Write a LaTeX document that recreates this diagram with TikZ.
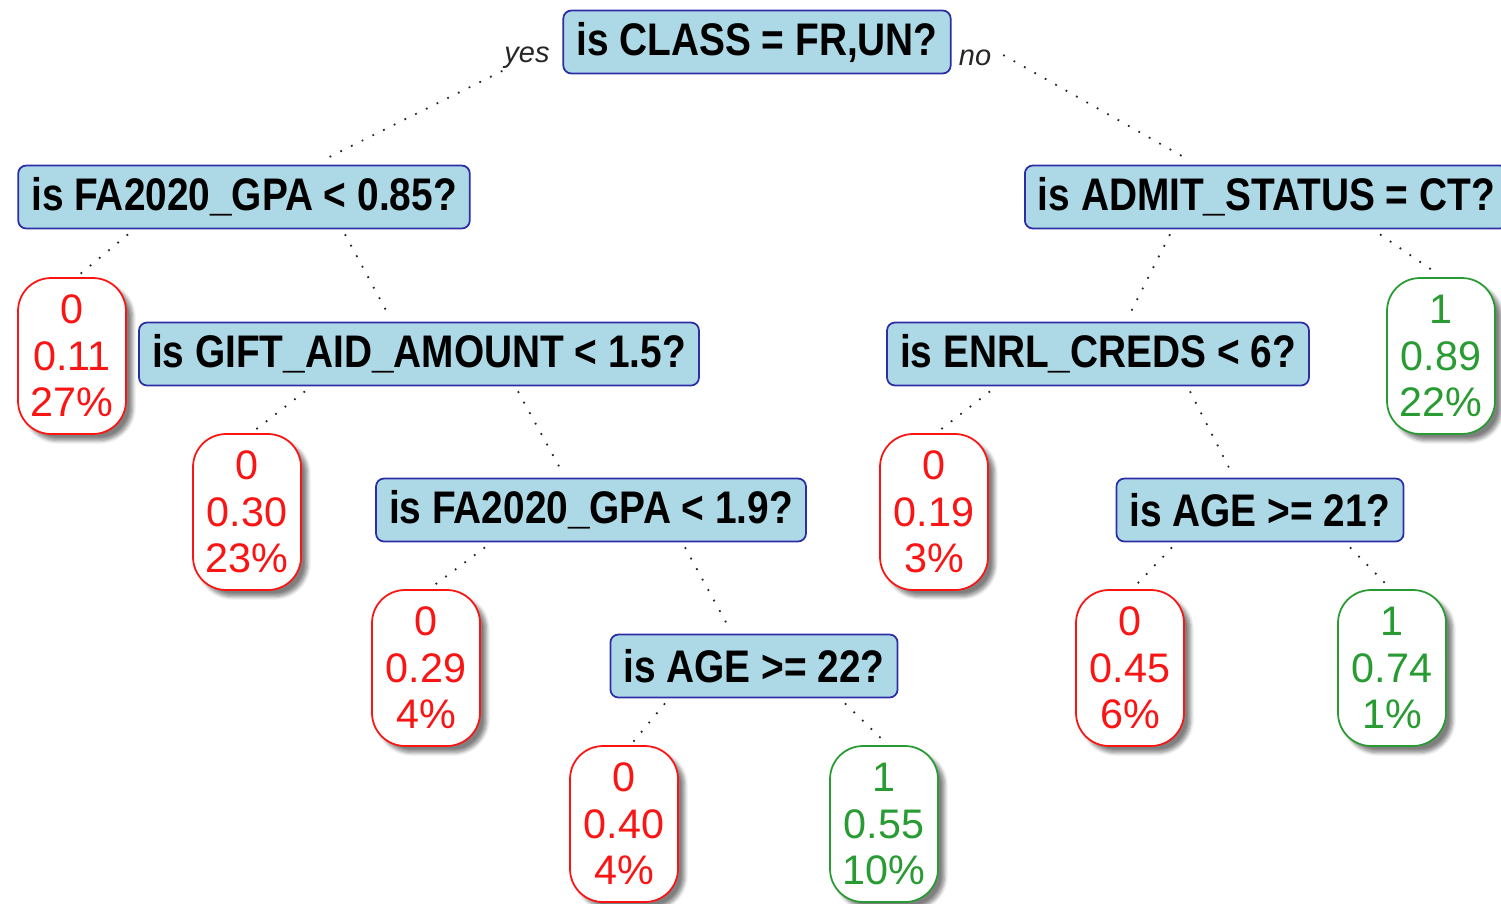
\documentclass[tikz,border=0pt]{standalone}
\usepackage{fontspec}
\setmainfont{Liberation Sans}
\newfontfamily\splitfont[FakeStretch=0.85]{Liberation Sans}
\usetikzlibrary{calc,shadows.blur}

\definecolor{splitfill}{RGB}{173,216,230}
\definecolor{splitdraw}{RGB}{45,45,165}
\definecolor{leafred}{RGB}{250,20,20}
\definecolor{leafgreen}{RGB}{40,155,50}

\tikzset{
  split/.style={draw=splitdraw, fill=splitfill, line width=1pt, rounded corners=0.16cm,
    minimum height=1.26cm, inner xsep=0.26cm, inner ysep=0pt,
    font=\splitfont\bfseries\fontsize{26}{30}\selectfont},
  leaf/.style={fill=white, line width=1pt, rounded corners=0.66cm, minimum width=2.16cm,
    minimum height=3.12cm, align=center, inner sep=0pt,
    font=\fontsize{23.5}{26.5}\selectfont,
    blur shadow={shadow xshift=0.13cm, shadow yshift=-0.13cm, shadow opacity=50, shadow blur steps=6}},
  leafno/.style={leaf, draw=leafred, text=leafred},
  leafyes/.style={leaf, draw=leafgreen, text=leafgreen},
  edge/.style={line width=1pt, dash pattern=on 1pt off 5.8pt, black!85},
  ans/.style={font=\itshape\fontsize{16.5}{18}\selectfont, inner sep=1pt, black!85}
}

\begin{document}
\begin{tikzpicture}[x=0.02cm, y=-0.02cm]
  \useasboundingbox (0,0) rectangle (1501,903);

  % splits
  \node[split] (root) at (757,42) {is CLASS = FR,UN?};
  \node[ans] (yes) at (527,58) {yes};
  \node[ans] (no) at (975,58) {no};

  \node[split] (fa085) at (244,197) {is FA2020\_GPA < 0.85?};
  \node[split, anchor=west] (admit) at (1024,197) {is ADMIT\_STATUS = CT?};
  \node[split] (gift) at (419,354) {is GIFT\_AID\_AMOUNT < 1.5?};
  \node[split] (enrl) at (1098,354) {is ENRL\_CREDS < 6?};
  \node[split] (fa19) at (591,510) {is FA2020\_GPA < 1.9?};
  \node[split] (age21) at (1260,510) {is AGE >= 21?};
  \node[split] (age22) at (754,666) {is AGE >= 22?};

  % leaves
  \node[leafno] (l011) at (72,356) {0\\0.11\\27\%};
  \node[leafyes] (l089) at (1441,356) {1\\0.89\\22\%};
  \node[leafno] (l030) at (247,512) {0\\0.30\\23\%};
  \node[leafno] (l019) at (934,512) {0\\0.19\\3\%};
  \node[leafno] (l029) at (426,668) {0\\0.29\\4\%};
  \node[leafno] (l045) at (1130,668) {0\\0.45\\6\%};
  \node[leafyes] (l074) at (1392,668) {1\\0.74\\1\%};
  \node[leafno] (l040) at (624,824) {0\\0.40\\4\%};
  \node[leafyes] (l055) at (884,824) {1\\0.55\\10\%};

  % edges
  \draw[edge] (yes.south west) -- ($(fa085.north)+(78,-4)$);
  \draw[edge] ($(no.east)+(10,-3)$) -- ($(admit.north west)+(166,-4)$);
  \draw[edge] ($(fa085.south)+(-116,5)$) -- ($(l011.north)+(8,-3)$);
  \draw[edge] ($(fa085.south)+(101,5)$) -- ($(gift.north)+(-29,-4)$);
  \draw[edge] ($(admit.south west)+(146,5)$) -- ($(enrl.north)+(30,-4)$);
  \draw[edge] ($(admit.south west)+(356,5)$) -- ($(l089.north)+(-3,-3)$);
  \draw[edge] ($(gift.south)+(-114,5)$) -- ($(l030.north)+(8,-3)$);
  \draw[edge] ($(gift.south)+(99,5)$) -- ($(fa19.north)+(-28,-4)$);
  \draw[edge] ($(enrl.south)+(-108,5)$) -- ($(l019.north)+(6,-3)$);
  \draw[edge] ($(enrl.south)+(92,5)$) -- ($(age21.north)+(-28,-4)$);
  \draw[edge] ($(fa19.south)+(-106,5)$) -- ($(l029.north)+(7,-3)$);
  \draw[edge] ($(fa19.south)+(94,5)$) -- ($(age22.north)+(-24,-4)$);
  \draw[edge] ($(age21.south)+(-88,5)$) -- ($(l045.north)+(5,-3)$);
  \draw[edge] ($(age21.south)+(90,5)$) -- ($(l074.north)+(-4,-3)$);
  \draw[edge] ($(age22.south)+(-89,5)$) -- ($(l040.north)+(9,-3)$);
  \draw[edge] ($(age22.south)+(91,5)$) -- ($(l055.north)+(1,-3)$);
\end{tikzpicture}
\end{document}
